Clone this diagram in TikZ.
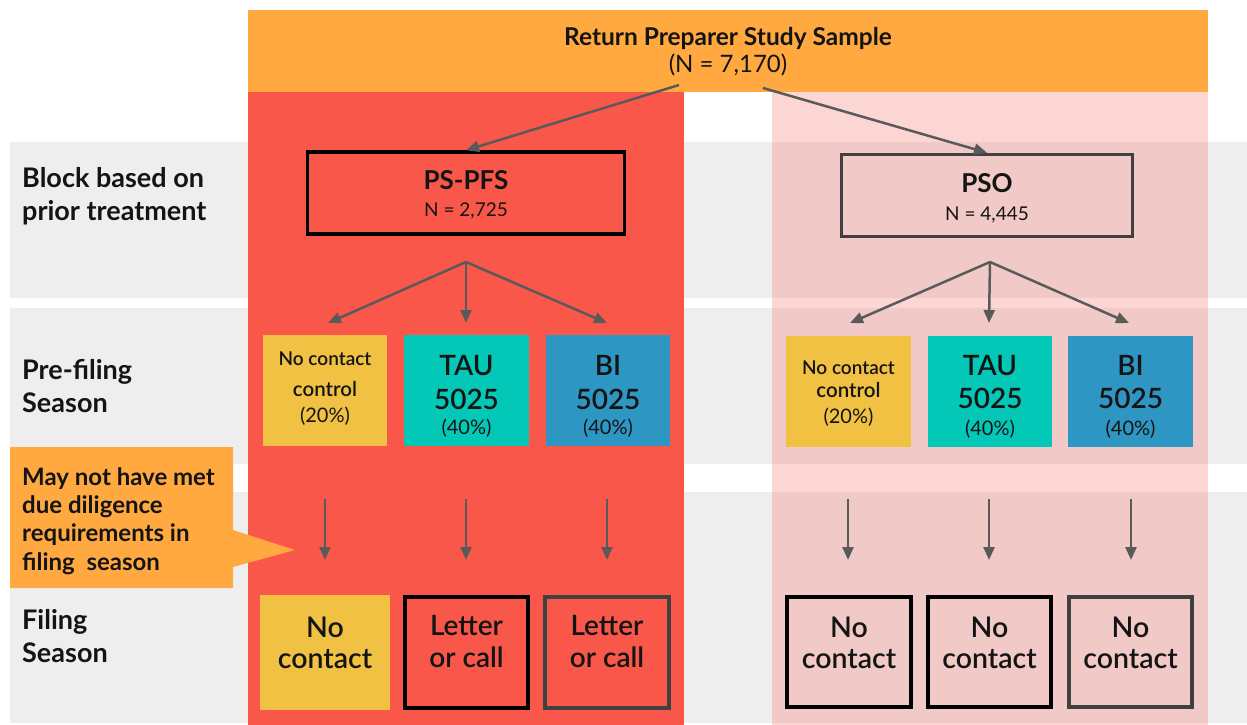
\documentclass[tikz,border=0pt]{standalone}
\usepackage{fontspec}
\setmainfont{Lato}
\newfontfamily\semi{Lato Semibold}
\usetikzlibrary{arrows.meta}
\definecolor{hdr}{RGB}{255,169,64}
\definecolor{redcol}{RGB}{249,87,73}
\definecolor{pinkc}{RGB}{248,122,112}
\definecolor{bandc}{RGB}{238,238,238}
\definecolor{arrc}{RGB}{90,90,90}
\definecolor{yelc}{RGB}{240,193,66}
\definecolor{tealc}{RGB}{3,200,183}
\definecolor{bluec}{RGB}{46,150,195}
\definecolor{dgray}{RGB}{64,64,64}
\definecolor{txtc}{RGB}{20,20,20}
\begin{document}
\begin{tikzpicture}[x=1pt,y=-1pt,
  lbl/.style={anchor=base, inner sep=0pt, text=txtc},
  lblw/.style={anchor=base west, inner sep=0pt, text=txtc},
  arrow/.style={draw=arrc, line width=2.5pt, -{Triangle[length=13pt,width=11pt]}},
  box/.style={rectangle, inner sep=0pt},
  blkbox/.style={box, draw=black, line width=3.5pt},
  grybox/.style={box, draw=dgray, line width=3.5pt},
  fsemi/.style={font=\semi\fontsize{#1}{#1}\selectfont},
  freg/.style={font=\fontsize{#1}{#1}\selectfont},
  fbold/.style={font=\bfseries\fontsize{#1}{#1}\selectfont}]
\useasboundingbox (0,0) rectangle (1247,725);
\fill[white] (0,0) rectangle (1247,725);
% row bands
\fill[bandc] (10,142) rectangle (1247,298);
\fill[bandc] (10,308) rectangle (1247,464);
\fill[bandc] (10,492) rectangle (1247,723);
% columns
\fill[redcol] (248,92) rectangle (684,725);
\fill[pinkc, fill opacity=0.3] (772,92) rectangle (1208,725);
% header
\fill[hdr] (248,10) rectangle (1208,92);
\node[lbl, fbold=24.5] (h1) at (728,46) {Return Preparer Study Sample};
\node[lbl, freg=24] (h2) at (728,73) {(N = 7,170)};

% row labels
\node[lblw, fbold=27] (r1a) at (22,187) {Block based on};
\node[lblw, fbold=27] (r1b) at (22,220) {prior treatment};
\node[lblw, fbold=27] (r2a) at (22,379) {Pre-filing};
\node[lblw, fbold=27] (r2b) at (22,412) {Season};
\node[lblw, fbold=27] (r3a) at (22,629) {Filing};
\node[lblw, fbold=27] (r3b) at (22,662) {Season};

% callout
\fill[hdr] (10,447) -- (233,447) -- (233,530) -- (295,550) -- (233,567) -- (233,588) -- (10,588) -- cycle;
\node[lblw, fbold=24] (c1) at (22,485.5) {May not have met};
\node[lblw, fbold=24] (c2) at (22,513.5) {due diligence};
\node[lblw, fbold=24] (c3) at (22,541.5) {requirements in};
\node[lblw, fbold=24] (c4) at (22,570.5) {filing\ \ season};

% block boxes
\node[blkbox, minimum width=317pt, minimum height=82pt] (pspfs) at (466,193) {};
\node[lbl, fbold=26] (pspfsa) at (466,189) {PS-PFS};
\node[lbl, freg=19] (pspfsb) at (466,216) {N = 2,725};
\node[grybox, minimum width=291pt, minimum height=82pt] (pso) at (987,195.5) {};
\node[lbl, fbold=26] (psoa) at (987,192) {PSO};
\node[lbl, freg=19] (psob) at (987,220) {N = 4,445};

% header arrows
\coordinate (hsl) at (679,85);
\coordinate (hsr) at (763,88);
\draw[arrow] (hsl) -- (pspfs.north);
\draw[arrow] (hsr) -- (pso.north);

% fan arrows
\coordinate (fl) at (466,262);
\coordinate (fl1) at (328,323);
\coordinate (fl2) at (466,323);
\coordinate (fl3) at (607,323);
\draw[arrow] (fl) -- (fl1);
\draw[arrow] (fl) -- (fl2);
\draw[arrow] (fl) -- (fl3);
\coordinate (fr) at (990,262);
\coordinate (fr1) at (850,323);
\coordinate (fr2) at (989,323);
\coordinate (fr3) at (1129,323);
\draw[arrow] (fr) -- (fr1);
\draw[arrow] (fr) -- (fr2);
\draw[arrow] (fr) -- (fr3);

% pre-filing boxes left
\node[box, fill=yelc, minimum width=124pt, minimum height=111pt] (py1) at (325,390.5) {};
\node[lbl, fsemi=19] (py1a) at (325,365) {No contact};
\node[lbl, fsemi=20.5] (py1b) at (325,396) {control};
\node[lbl, freg=20] (py1c) at (325,422) {(20\%)};
\node[box, fill=tealc, minimum width=125pt, minimum height=111pt] (pt1) at (466.5,390.5) {};
\node[lbl, fsemi=28] (pt1a) at (466.5,375) {TAU};
\node[lbl, fsemi=28] (pt1b) at (466.5,409) {5025};
\node[lbl, freg=20] (pt1c) at (466.5,434) {(40\%)};
\node[box, fill=bluec, minimum width=124pt, minimum height=111pt] (pb1) at (608,390.5) {};
\node[lbl, fsemi=28] (pb1a) at (608,375) {BI};
\node[lbl, fsemi=28] (pb1b) at (608,409) {5025};
\node[lbl, freg=20] (pb1c) at (608,434) {(40\%)};
% pre-filing boxes right
\node[box, fill=yelc, minimum width=125pt, minimum height=111pt] (py2) at (848.5,391.5) {};
\node[lbl, fsemi=19] (py2a) at (848.5,374) {No contact};
\node[lbl, fsemi=20.5] (py2b) at (848.5,397) {control};
\node[lbl, freg=20] (py2c) at (848.5,423) {(20\%)};
\node[box, fill=tealc, minimum width=124pt, minimum height=111pt] (pt2) at (990,391.5) {};
\node[lbl, fsemi=28] (pt2a) at (990,375) {TAU};
\node[lbl, fsemi=28] (pt2b) at (990,408) {5025};
\node[lbl, freg=20] (pt2c) at (990,435) {(40\%)};
\node[box, fill=bluec, minimum width=125pt, minimum height=111pt] (pb2) at (1130.5,391.5) {};
\node[lbl, fsemi=28] (pb2a) at (1130.5,375) {BI};
\node[lbl, fsemi=28] (pb2b) at (1130.5,408) {5025};
\node[lbl, freg=20] (pb2c) at (1130.5,435) {(40\%)};

% down arrows
\foreach \n/\x in {d1/325,d2/466,d3/607,d4/848,d5/989,d6/1131}{
  \coordinate (\n s) at (\x,499);
  \coordinate (\n e) at (\x,560);
  \draw[arrow] (\n s) -- (\n e);
}

% filing boxes left
\node[box, fill=yelc, minimum width=130pt, minimum height=115pt] (fy) at (325,652.5) {};
\node[lbl, fsemi=28.5] (fya) at (325,637) {No};
\node[lbl, fsemi=28.5] (fyb) at (325,668) {contact};
\node[blkbox, minimum width=123pt, minimum height=111pt] (fl1b) at (466.5,652.5) {};
\node[lbl, fsemi=28] (fl1a) at (466.5,635) {Letter};
\node[lbl, fsemi=28] (fl1c) at (466.5,667) {or call};
\node[grybox, minimum width=124pt, minimum height=111pt] (fl2b) at (607,652.5) {};
\node[lbl, fsemi=28] (fl2a) at (607,635) {Letter};
\node[lbl, fsemi=28] (fl2c) at (607,667) {or call};
% filing boxes right
\node[blkbox, minimum width=124pt, minimum height=110pt] (fr1b) at (849,652) {};
\node[lbl, fsemi=28.5] (fr1a) at (849,637) {No};
\node[lbl, fsemi=28.5] (fr1c) at (849,668) {contact};
\node[blkbox, minimum width=123pt, minimum height=110pt] (fr2b) at (989.5,652) {};
\node[lbl, fsemi=28.5] (fr2a) at (989.5,637) {No};
\node[lbl, fsemi=28.5] (fr2c) at (989.5,668) {contact};
\node[grybox, minimum width=123pt, minimum height=110pt] (fr3b) at (1130.5,652) {};
\node[lbl, fsemi=28.5] (fr3a) at (1130.5,637) {No};
\node[lbl, fsemi=28.5] (fr3c) at (1130.5,668) {contact};
\end{tikzpicture}
\end{document}
